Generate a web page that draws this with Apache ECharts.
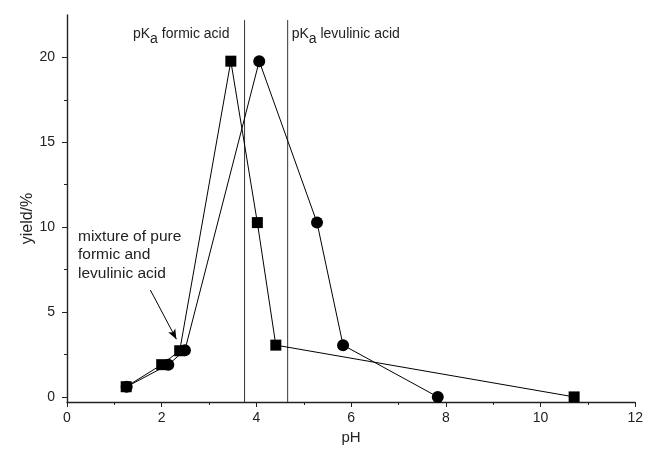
<!DOCTYPE html>
<html><head><meta charset="utf-8">
<script src="https://cdn.jsdelivr.net/npm/echarts@6/dist/echarts.min.js"></script>
<style>html,body{margin:0;padding:0;background:#fff}#c{width:646px;height:455px}</style>
</head><body><div id="c"></div>
<script>
// Data
const squarePH    = [1.25, 2.0, 2.38, 3.46, 4.02, 4.41, 10.71];
const squareYield = [0.6, 1.9, 2.72, 19.78, 10.27, 3.05, 0.0];
const circlePH    = [1.26, 2.14, 2.49, 4.06, 5.28, 5.83, 7.83];
const circleYield = [0.6, 1.9, 2.75, 19.78, 10.27, 3.05, 0.0];
const pKaFormic = 3.75;
const pKaLevulinic = 4.66;
const xTicks = [0, 2, 4, 6, 8, 10, 12];
const yMajorTicks = [0, 5, 10, 15, 20];
const yMinorTicks = [2.5, 7.5, 12.5, 17.5];

const FONT = '"Liberation Sans", Arial, sans-serif';
const chart = echarts.init(document.getElementById('c'));
const yMin = -0.3, yMax = 22.5, vTop = 22.2;

const pairs = (xs, ys) => xs.map((x, i) => [x, ys[i]]);

chart.setOption({
  animation: false,
  grid: {left: 67, right: 9, top: 15, bottom: 53},
  xAxis: {
    type: 'value', min: 0, max: 12, interval: 2,
    name: 'pH', nameLocation: 'middle', nameGap: 28,
    nameTextStyle: {fontFamily: FONT, fontSize: 15, color: '#222'},
    axisLine: {show: true, onZero: false, lineStyle: {color: '#222', width: 1.4}},
    axisTick: {show: true, length: 5, lineStyle: {color: '#222'}},
    minorTick: {show: true, splitNumber: 2, length: 3, lineStyle: {color: '#222'}},
    axisLabel: {fontFamily: FONT, fontSize: 14, color: '#222', margin: 9},
    splitLine: {show: false}
  },
  yAxis: [{
    type: 'value', min: yMin, max: yMax,
    name: 'yield/%', nameLocation: 'middle', nameGap: 31, nameRotate: 90, nameMoveOverlap: false,
    nameTextStyle: {fontFamily: FONT, fontSize: 16, color: '#222', padding: [0, 20, 0, 0]},
    axisLine: {show: true, onZero: false, lineStyle: {color: '#222', width: 1.4}},
    axisTick: {show: true, length: 3, customValues: yMinorTicks, lineStyle: {color: '#222'}},
    axisLabel: {fontFamily: FONT, fontSize: 14, color: '#222', margin: 12, customValues: yMajorTicks},
    splitLine: {show: false}
  }, {
    type: 'value', min: yMin, max: yMax, position: 'left',
    axisLine: {show: false},
    axisTick: {show: true, length: 5, customValues: yMajorTicks, lineStyle: {color: '#222'}},
    axisLabel: {show: false},
    splitLine: {show: false}
  }],
  series: [
    {
      type: 'line', data: [[pKaFormic, yMin], [pKaFormic, vTop]], symbol: 'none',
      lineStyle: {color: '#333', width: 1}, silent: true, z: 1
    },
    {
      type: 'line', data: [[pKaLevulinic, yMin], [pKaLevulinic, vTop]], symbol: 'none',
      lineStyle: {color: '#333', width: 1}, silent: true, z: 1
    },
    {
      type: 'line', data: pairs(squarePH, squareYield),
      symbol: 'rect', symbolSize: 11,
      itemStyle: {color: '#000'}, lineStyle: {color: '#000', width: 1}, z: 3,
      markLine: {
        silent: true, symbol: ['none', 'arrow'], symbolSize: [6, 10],
        lineStyle: {color: '#000', width: 1, type: 'solid'}, label: {show: false},
        data: [[{coord: [1.76, 6.3]}, {coord: [2.31, 3.4]}]]
      }
    },
    {
      type: 'line', data: pairs(circlePH, circleYield),
      symbol: 'circle', symbolSize: 12,
      itemStyle: {color: '#000'}, lineStyle: {color: '#000', width: 1}, z: 3
    }
  ]
});

function px(x, y) { return chart.convertToPixel({gridIndex: 0}, [x, y]); }
const p1 = px(pKaFormic, 0), p2 = px(pKaLevulinic, 0);
const rich = {
  n: {fontFamily: FONT, fontSize: 14, fill: '#222'},
  s: {fontFamily: FONT, fontSize: 14, fill: '#222', padding: [11, 0, 0, 0]}
};
chart.setOption({
  graphic: [
    {type: 'text', left: 133, top: 27, style: {text: '{n|pK}{s|a}{n| formic acid}', rich: rich}},
    {type: 'text', left: p2[0] + 4, top: 27, style: {text: '{n|pK}{s|a}{n| levulinic acid}', rich: rich}},
    {type: 'text', left: 78, top: 227, style: {text: 'mixture of pure\nformic and\nlevulinic acid', fontFamily: FONT, fontSize: 15.5, fill: '#222', lineHeight: 18.5}}
  ]
});
</script></body></html>
